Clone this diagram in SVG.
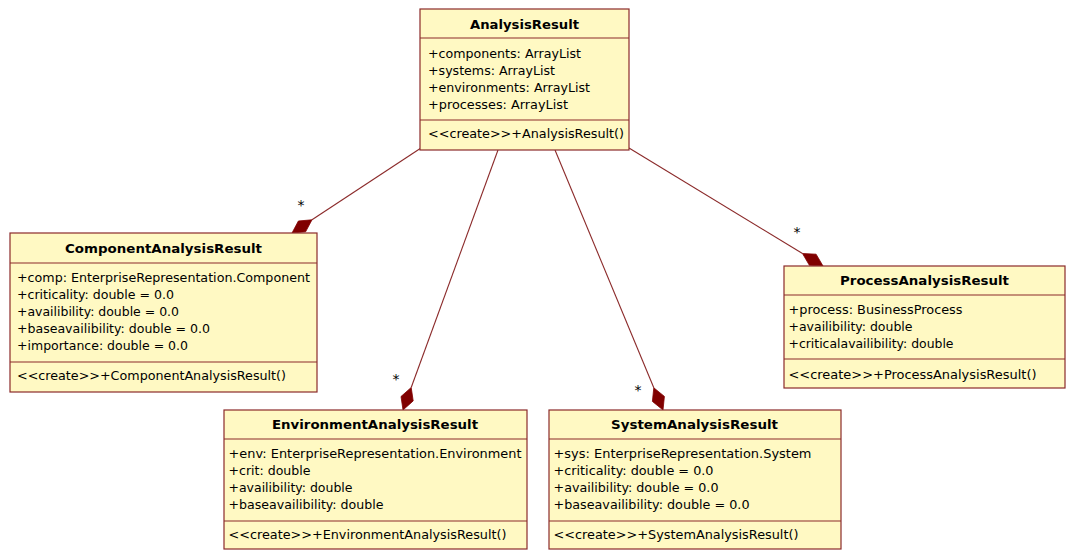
<svg xmlns="http://www.w3.org/2000/svg" width="1069" height="550" viewBox="0 0 1069 550">
  <style>
    .box { fill: #FFF9C3; stroke: #8B2A2A; stroke-width: 1.2; }
    .sep { stroke: #8B2A2A; stroke-width: 1.2; }
    .title { font-family: "DejaVu Sans", Verdana, sans-serif; font-size: 13px; font-weight: bold; fill: #000; }
    .txt { font-family: "DejaVu Sans", Verdana, sans-serif; font-size: 12.5px; fill: #000; }
    .mult { font-family: "DejaVu Sans", Verdana, sans-serif; font-size: 14px; fill: #000; text-anchor: middle; }
    .assoc { stroke: #8B2A2A; stroke-width: 1.1; fill: none; }
    .diamond { fill: #800000; stroke: #800000; stroke-width: 0.8; }
  </style>
  <rect width="1069" height="550" fill="#FFFFFF"/>

  <!-- composition connectors (filled diamond at part end) -->
  <g id="connectors">
    <line class="assoc" x1="421" y1="148" x2="312" y2="219.8"/>
    <polygon class="diamond" points="292,233 305.6,231.8 312,219.8 298.4,221"/>
    <text class="mult" x="301" y="210">*</text>

    <line class="assoc" x1="498" y1="150" x2="411.2" y2="387.5"/>
    <polygon class="diamond" points="403,410 413.2,400.9 411.2,387.5 401,396.5"/>
    <text class="mult" x="396" y="384">*</text>

    <line class="assoc" x1="555" y1="150" x2="653.8" y2="387.8"/>
    <polygon class="diamond" points="663,410 664.4,396.4 653.8,387.8 652.4,401.4"/>
    <text class="mult" x="638" y="395">*</text>

    <line class="assoc" x1="629" y1="148" x2="802.5" y2="253.5"/>
    <polygon class="diamond" points="823,266 816.1,254.2 802.5,253.5 809.4,265.3"/>
    <text class="mult" x="797" y="237">*</text>
  </g>

  <!-- AnalysisResult -->
  <g id="AnalysisResult">
    <rect class="box" x="420" y="9" width="209" height="141"/>
    <line class="sep" x1="420" y1="38" x2="629" y2="38"/>
    <line class="sep" x1="420" y1="120" x2="629" y2="120"/>
    <text class="title" x="470" y="29" textLength="109" lengthAdjust="spacingAndGlyphs">AnalysisResult</text>
    <text class="txt" x="428" y="58" textLength="153" lengthAdjust="spacingAndGlyphs">+components: ArrayList</text>
    <text class="txt" x="428" y="75" textLength="127" lengthAdjust="spacingAndGlyphs">+systems: ArrayList</text>
    <text class="txt" x="428" y="92" textLength="162" lengthAdjust="spacingAndGlyphs">+environments: ArrayList</text>
    <text class="txt" x="428" y="109" textLength="140" lengthAdjust="spacingAndGlyphs">+processes: ArrayList</text>
    <text class="txt" x="428" y="138" textLength="196" lengthAdjust="spacingAndGlyphs">&lt;&lt;create&gt;&gt;+AnalysisResult()</text>
  </g>

  <!-- ComponentAnalysisResult -->
  <g id="ComponentAnalysisResult">
    <rect class="box" x="10" y="233" width="307" height="159"/>
    <line class="sep" x1="10" y1="263" x2="317" y2="263"/>
    <line class="sep" x1="10" y1="362" x2="317" y2="362"/>
    <text class="title" x="65" y="253" textLength="197" lengthAdjust="spacingAndGlyphs">ComponentAnalysisResult</text>
    <text class="txt" x="17" y="282" textLength="293" lengthAdjust="spacingAndGlyphs">+comp: EnterpriseRepresentation.Component</text>
    <text class="txt" x="17" y="299" textLength="157" lengthAdjust="spacingAndGlyphs">+criticality: double = 0.0</text>
    <text class="txt" x="17" y="316" textLength="162" lengthAdjust="spacingAndGlyphs">+availibility: double = 0.0</text>
    <text class="txt" x="17" y="333" textLength="193" lengthAdjust="spacingAndGlyphs">+baseavailibility: double = 0.0</text>
    <text class="txt" x="17" y="350" textLength="171" lengthAdjust="spacingAndGlyphs">+importance: double = 0.0</text>
    <text class="txt" x="17" y="380" textLength="269" lengthAdjust="spacingAndGlyphs">&lt;&lt;create&gt;&gt;+ComponentAnalysisResult()</text>
  </g>

  <!-- EnvironmentAnalysisResult -->
  <g id="EnvironmentAnalysisResult">
    <rect class="box" x="224" y="410" width="303" height="139"/>
    <line class="sep" x1="224" y1="439" x2="527" y2="439"/>
    <line class="sep" x1="224" y1="521" x2="527" y2="521"/>
    <text class="title" x="272" y="429" textLength="206" lengthAdjust="spacingAndGlyphs">EnvironmentAnalysisResult</text>
    <text class="txt" x="228.5" y="458" textLength="293" lengthAdjust="spacingAndGlyphs">+env: EnterpriseRepresentation.Environment</text>
    <text class="txt" x="228.5" y="475" textLength="82" lengthAdjust="spacingAndGlyphs">+crit: double</text>
    <text class="txt" x="228.5" y="492" textLength="124" lengthAdjust="spacingAndGlyphs">+availibility: double</text>
    <text class="txt" x="228.5" y="509" textLength="155" lengthAdjust="spacingAndGlyphs">+baseavailibility: double</text>
    <text class="txt" x="228.5" y="539" textLength="278" lengthAdjust="spacingAndGlyphs">&lt;&lt;create&gt;&gt;+EnvironmentAnalysisResult()</text>
  </g>

  <!-- SystemAnalysisResult -->
  <g id="SystemAnalysisResult">
    <rect class="box" x="549" y="410" width="292" height="139"/>
    <line class="sep" x1="549" y1="439" x2="841" y2="439"/>
    <line class="sep" x1="549" y1="521" x2="841" y2="521"/>
    <text class="title" x="611" y="429" textLength="167" lengthAdjust="spacingAndGlyphs">SystemAnalysisResult</text>
    <text class="txt" x="553.5" y="458" textLength="258" lengthAdjust="spacingAndGlyphs">+sys: EnterpriseRepresentation.System</text>
    <text class="txt" x="553.5" y="475" textLength="160" lengthAdjust="spacingAndGlyphs">+criticality: double = 0.0</text>
    <text class="txt" x="553.5" y="492" textLength="165" lengthAdjust="spacingAndGlyphs">+availibility: double = 0.0</text>
    <text class="txt" x="553.5" y="509" textLength="196" lengthAdjust="spacingAndGlyphs">+baseavailibility: double = 0.0</text>
    <text class="txt" x="553.5" y="539" textLength="245" lengthAdjust="spacingAndGlyphs">&lt;&lt;create&gt;&gt;+SystemAnalysisResult()</text>
  </g>

  <!-- ProcessAnalysisResult -->
  <g id="ProcessAnalysisResult">
    <rect class="box" x="784" y="266" width="281" height="122"/>
    <line class="sep" x1="784" y1="295" x2="1065" y2="295"/>
    <line class="sep" x1="784" y1="359" x2="1065" y2="359"/>
    <text class="title" x="840" y="285" textLength="169" lengthAdjust="spacingAndGlyphs">ProcessAnalysisResult</text>
    <text class="txt" x="788.5" y="314" textLength="174" lengthAdjust="spacingAndGlyphs">+process: BusinessProcess</text>
    <text class="txt" x="788.5" y="331" textLength="124" lengthAdjust="spacingAndGlyphs">+availibility: double</text>
    <text class="txt" x="788.5" y="348" textLength="165" lengthAdjust="spacingAndGlyphs">+criticalavailibility: double</text>
    <text class="txt" x="788.5" y="379" textLength="248" lengthAdjust="spacingAndGlyphs">&lt;&lt;create&gt;&gt;+ProcessAnalysisResult()</text>
  </g>
</svg>
